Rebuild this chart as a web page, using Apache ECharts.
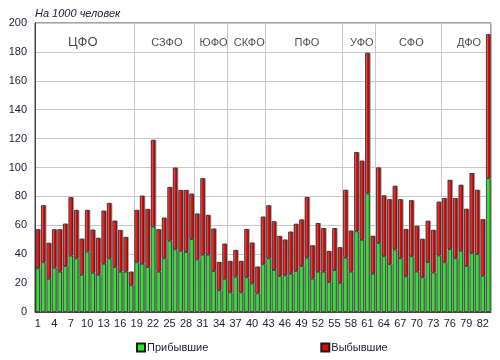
<!DOCTYPE html>
<html>
<head>
<meta charset="utf-8">
<script src="https://cdn.jsdelivr.net/npm/echarts@6/dist/echarts.min.js"></script>
<style>
  html, body { margin: 0; padding: 0; background: #ffffff; }
  #chart { width: 500px; height: 360px; }
</style>
</head>
<body>
<div id="chart"></div>
<script>
// Region numbers 1..83
const categories = [];
for (let i = 1; i <= 83; i++) categories.push(String(i));

// Прибывшие (arrivals), per 1000 population
const arrivals = [
  30.2, 34.4, 23.0, 30.7, 27.9, 31.8, 39.0, 37.1, 25.8, 41.8,
  27.2, 25.8, 33.4, 37.1, 31.1, 27.9, 27.9, 18.5, 34.4, 33.4,
  31.1, 59.1, 27.9, 37.1, 49.4, 43.4, 42.4, 41.5, 50.5, 36.4,
  39.7, 39.7, 28.4, 15.0, 23.0, 13.6, 24.5, 13.6, 24.0, 19.8,
  12.9, 33.0, 37.1, 29.1, 24.9, 25.4, 26.5, 28.5, 31.8, 37.6,
  23.1, 27.9, 27.9, 20.8, 29.1, 20.2, 37.6, 27.9, 55.8, 50.0,
  82.0, 26.5, 47.8, 38.6, 33.1, 43.2, 37.2, 24.6, 38.6, 28.0,
  24.0, 34.5, 27.3, 39.1, 34.4, 43.5, 37.2, 42.4, 31.9, 40.7,
  40.0, 25.1, 92.6
];

// Выбывшие (departures), per 1000 population
const departures = [
  27.0, 39.4, 24.8, 26.5, 29.3, 29.3, 40.4, 33.5, 24.9, 28.8,
  29.8, 25.5, 36.7, 38.3, 32.1, 28.8, 24.0,  9.4, 36.2, 47.1,
  40.2, 60.0, 29.3, 28.2, 37.1, 56.5, 42.0, 42.9, 31.4, 31.7,
  52.8, 27.4, 29.3, 19.6, 24.3, 21.7, 18.4, 21.7, 33.4, 28.2,
  18.5, 33.0, 36.7, 33.6, 27.7, 24.7, 29.1, 32.5, 32.2, 41.9,
  23.0, 33.6, 30.1, 21.4, 28.9, 24.6, 46.9, 28.4, 54.8, 54.7,
  97.3, 26.2, 52.2, 42.1, 44.9, 44.1, 40.8, 32.8, 38.7, 31.6,
  26.6, 28.6, 29.5, 37.2, 44.4, 47.9, 41.6, 45.6, 39.5, 55.4,
  44.5, 39.1, 99.6
];

// Federal districts and the number of regions in each
const districts = ['ЦФО', 'СЗФО', 'ЮФО', 'СКФО', 'ПФО', 'УФО', 'СФО', 'ДФО'];
const districtSizes = [18, 11, 6, 7, 14, 6, 12, 9];

const seriesNames = ['Прибывшие', 'Выбывшие'];
const yTicks = { min: 0, max: 200, interval: 20 };

// boundaries between districts (category indices)
const boundaries = [];
let acc = 0;
districtSizes.forEach((s, k) => { acc += s; if (k < districtSizes.length - 1) boundaries.push(acc); });
const boundarySet = new Set(boundaries);

// district label positions (group centres on a continuous 0..83 axis)
const districtLabels = [];
let start = 0;
districtSizes.forEach((s, k) => {
  districtLabels.push({
    value: [start + s / 2 + (k === 0 ? -0.3 : 0.5), 186.5],
    name: districts[k],
    label: { fontSize: k === 0 ? 13 : 11 }
  });
  start += s;
});

const FONT = '"Liberation Sans", Arial, sans-serif';
const chart = echarts.init(document.getElementById('chart'), null, { renderer: 'canvas' });

chart.setOption({
  animation: false,
  backgroundColor: '#ffffff',
  textStyle: { fontFamily: FONT },
  title: {
    text: 'На 1000 человек',
    left: 30, top: 3,
    textStyle: { fontSize: 11, fontStyle: 'italic', fontWeight: 'normal', color: '#1c1c3c', fontFamily: FONT }
  },
  grid: {
    left: 35, right: 9, top: 23, bottom: 48,
    show: true, borderColor: '#444', borderWidth: 1, backgroundColor: '#ffffff'
  },
  legend: {
    data: seriesNames,
    left: 131, top: 337,
    itemWidth: 8, itemHeight: 8, itemGap: 112,
    icon: 'rect',
    textStyle: { fontSize: 11, color: '#1c1c3c', fontFamily: FONT, padding: [0, 0, 0, -3] }
  },
  xAxis: [{
    type: 'category',
    data: categories,
    boundaryGap: true,
    axisLine: { show: true, lineStyle: { color: '#444' } },
    axisTick: { show: false },
    axisLabel: { interval: 2, fontSize: 11, color: '#1c1c3c', margin: 6, fontFamily: FONT },
    splitLine: {
      show: true,
      interval: function (index) { return boundarySet.has(index); },
      lineStyle: { color: '#c8c8c8', width: 1 }
    }
  }, {
    type: 'value',
    min: 0, max: 83,
    show: false
  }],
  yAxis: {
    type: 'value',
    min: yTicks.min, max: yTicks.max, interval: yTicks.interval,
    axisLine: { show: true, lineStyle: { color: '#444' } },
    axisTick: { show: false },
    axisLabel: { fontSize: 11, color: '#1c1c3c', margin: 8, fontFamily: FONT },
    splitLine: { show: true, lineStyle: { color: '#c8c8c8', width: 1 } }
  },
  series: [{
    name: seriesNames[0],
    type: 'bar',
    stack: 'total',
    data: arrivals,
    barWidth: 4.4,
    itemStyle: {
      color: '#22ee22', borderColor: '#1a1a1a', borderWidth: 0.7,
      shadowColor: '#9a9a9a', shadowOffsetX: 1, shadowBlur: 0
    }
  }, {
    name: seriesNames[1],
    type: 'bar',
    stack: 'total',
    data: departures,
    barWidth: 4.4,
    itemStyle: {
      color: '#f40000', borderColor: '#1a1a1a', borderWidth: 0.7,
      shadowColor: '#9a9a9a', shadowOffsetX: 1, shadowBlur: 0
    }
  }, {
    type: 'scatter',
    xAxisIndex: 1,
    symbolSize: 0,
    silent: true,
    data: districtLabels,
    label: {
      show: true, position: 'inside',
      formatter: p => p.name,
      color: '#1a1a1a', fontFamily: FONT
    }
  }]
});
</script>
</body>
</html>
